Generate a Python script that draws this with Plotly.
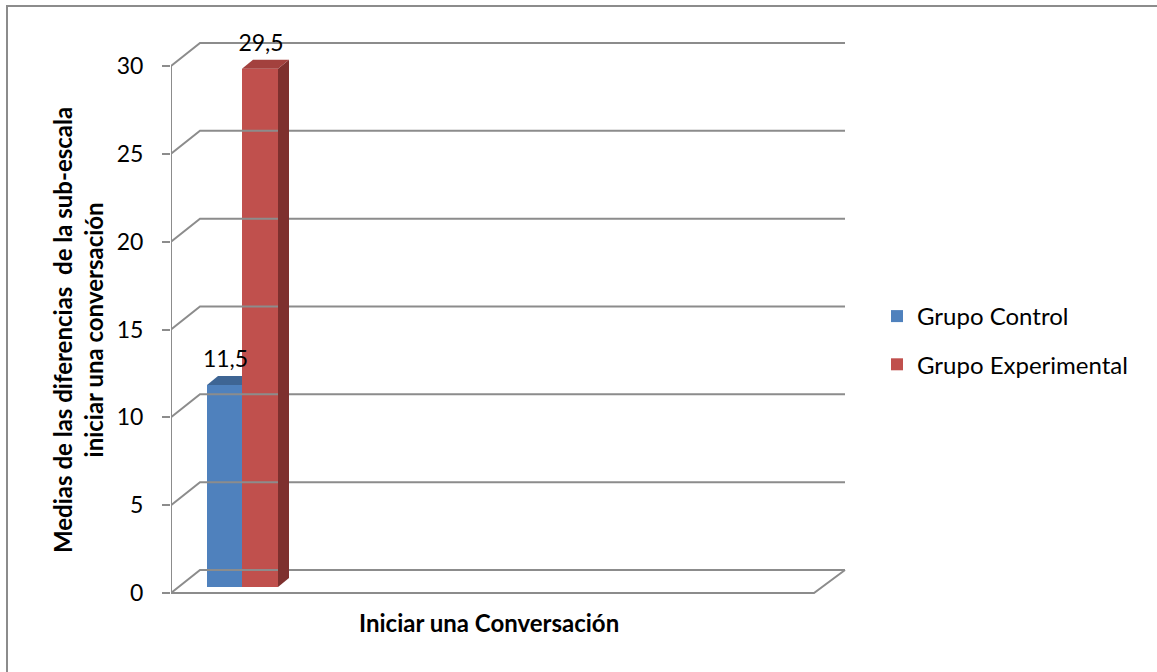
import plotly.graph_objects as go

# ---- data -------------------------------------------------------------
groups = ["Grupo Control", "Grupo Experimental"]
values = [11.5, 29.5]
tick_values = [0, 5, 10, 15, 20, 25, 30]
category_label = "Iniciar una Conversación"
y_title = "Medias de las diferencias  de la sub-escala<br>iniciar una conversación"

# ---- styling / 3-D geometry (x in pixel-like units, y in value units) --
front_colors = ["#4F81BD", "#C0504D"]
top_colors = ["#3E6594", "#A3413E"]
side_colors = ["#34557E", "#7E302E"]
grid_color = "#8C8C8C"
FONT = "Lato"

W, H = 1157, 672
PLOT_L, PLOT_R, PLOT_T, PLOT_B = 171, 850, 30, 610
PX_PER_UNIT = 527 / 30.0
Y_ZERO_PX = 593
Y_MIN = -(PLOT_B - Y_ZERO_PX) / PX_PER_UNIT
Y_MAX = (Y_ZERO_PX - PLOT_T) / PX_PER_UNIT

AXIS_X = 171          # front vertical axis
WALL_X0 = 200         # back wall start
WALL_X1 = 845         # back wall end
FLOOR_FRONT_END = 814
DEPTH_DX = WALL_X0 - AXIS_X
DEPTH_DV = 23 / PX_PER_UNIT

bar_edges = [(207, 242), (242, 278)]
BAR_BASE = 6 / PX_PER_UNIT     # bars stand slightly behind the front edge
BAR_DX = 11                    # bar depth, horizontal
BAR_DV = 9 / PX_PER_UNIT       # bar depth, vertical

fig = go.Figure()

line_style = dict(color=grid_color, width=2)

# back-wall gridlines and the side-wall diagonals
for v in tick_values:
    fig.add_trace(go.Scatter(
        x=[AXIS_X, WALL_X0, WALL_X1], y=[v, v + DEPTH_DV, v + DEPTH_DV],
        mode="lines", line=line_style, hoverinfo="skip", showlegend=False))

# front axis line and floor outline
fig.add_trace(go.Scatter(
    x=[AXIS_X, AXIS_X], y=[tick_values[0], tick_values[-1]],
    mode="lines", line=line_style, hoverinfo="skip", showlegend=False))
fig.add_trace(go.Scatter(
    x=[AXIS_X, FLOOR_FRONT_END, WALL_X1], y=[0, 0, DEPTH_DV],
    mode="lines", line=line_style, hoverinfo="skip", showlegend=False))

# bars: front face (bar trace), plus side and top faces.
# A face hidden behind the next, taller bar is clipped at that bar's edge.
for i, (name, v) in enumerate(zip(groups, values)):
    x0, x1 = bar_edges[i]
    fig.add_trace(go.Bar(
        x=[(x0 + x1) / 2], y=[v], base=[BAR_BASE], width=[x1 - x0],
        name=name, legendgroup=name,
        marker=dict(color=front_colors[i], line=dict(width=0)),
        hoverinfo="skip"))

    hidden = (i + 1 < len(values) and bar_edges[i + 1][0] == x1
              and values[i + 1] >= v)
    top = BAR_BASE + v
    if not hidden:
        fig.add_trace(go.Scatter(
            x=[x1, x1 + BAR_DX, x1 + BAR_DX, x1, x1],
            y=[BAR_BASE, BAR_BASE + BAR_DV, top + BAR_DV, top, BAR_BASE],
            fill="toself", fillcolor=side_colors[i], mode="lines",
            line=dict(width=0, color=side_colors[i]),
            hoverinfo="skip", showlegend=False))
        tx = [x0, x1, x1 + BAR_DX, x0 + BAR_DX, x0]
        ty = [top, top, top + BAR_DV, top + BAR_DV, top]
    else:
        tx = [x0, x1, x1, x0 + BAR_DX, x0]
        ty = [top, top, top + BAR_DV, top + BAR_DV, top]
    fig.add_trace(go.Scatter(
        x=tx, y=ty, fill="toself", fillcolor=top_colors[i], mode="lines",
        line=dict(width=0, color=top_colors[i]),
        hoverinfo="skip", showlegend=False))

# value labels
fig.add_trace(go.Scatter(
    x=[(a + b) / 2 + 1 for a, b in bar_edges],
    y=[BAR_BASE + v + BAR_DV + 3 / PX_PER_UNIT for v in values],
    mode="text",
    text=[f"{v:.1f}".replace(".", ",") for v in values],
    textposition="top center",
    textfont=dict(family=FONT, size=23, color="#000000"),
    hoverinfo="skip", showlegend=False))

plot_w = PLOT_R - PLOT_L
plot_h = PLOT_B - PLOT_T

def px_x(px):
    return (px - PLOT_L) / plot_w

def px_y(py):
    return (PLOT_B - py) / plot_h

fig.update_layout(
    width=W, height=H,
    margin=dict(l=PLOT_L, r=W - PLOT_R, t=PLOT_T, b=H - PLOT_B, pad=0),
    paper_bgcolor="white", plot_bgcolor="white",
    font=dict(family=FONT, color="#000000"),
    barmode="overlay",
    xaxis=dict(range=[PLOT_L, PLOT_R], visible=False, fixedrange=True),
    yaxis=dict(
        range=[Y_MIN, Y_MAX], tickvals=tick_values,
        ticktext=[str(t) for t in tick_values],
        ticks="outside", ticklen=8, tickwidth=2, tickcolor=grid_color,
        showgrid=False, zeroline=False, showline=False,
        tickfont=dict(family=FONT, size=23, color="#000000"),
        ticklabelstandoff=14, fixedrange=True),
    legend=dict(
        x=px_x(877), y=px_y(294), xanchor="left", yanchor="top",
        traceorder="grouped", tracegroupgap=14,
        font=dict(family=FONT, size=24, color="#000000"),
        bgcolor="rgba(0,0,0,0)"),
    annotations=[
        dict(text=f"<b>{category_label}</b>", x=px_x(489), y=px_y(622),
             xref="paper", yref="paper", showarrow=False,
             font=dict(family=FONT, size=24, color="#000000"),
             xanchor="center", yanchor="middle"),
        dict(text=f"<b>{y_title}</b>", x=px_x(78), y=px_y(330),
             xref="paper", yref="paper", showarrow=False, textangle=-90,
             font=dict(family=FONT, size=24, color="#000000"),
             xanchor="center", yanchor="middle"),
    ],
    shapes=[dict(type="rect", xref="paper", yref="paper",
                 x0=px_x(7), x1=px_x(1165), y0=px_y(680), y1=px_y(6),
                 line=dict(color="#8C8C8C", width=2), layer="below")],
)

fig.write_html("out.html")
